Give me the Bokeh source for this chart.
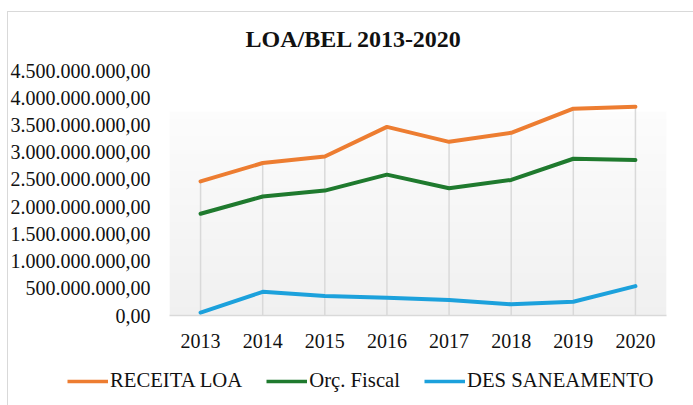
import numpy as np
from bokeh.plotting import figure
from bokeh.models import (Range1d, FixedTicker, CustomJSTickFormatter, Legend,
                          LegendItem, Title)
from bokeh.embed import file_html
from bokeh.resources import INLINE

# ---- data ----
years = [2013, 2014, 2015, 2016, 2017, 2018, 2019, 2020]
receita_loa = [2.464e9, 2.801e9, 2.921e9, 3.464e9, 3.190e9, 3.355e9, 3.799e9, 3.835e9]
orc_fiscal = [1.868e9, 2.185e9, 2.294e9, 2.587e9, 2.336e9, 2.490e9, 2.879e9, 2.856e9]
des_saneamento = [0.051e9, 0.435e9, 0.356e9, 0.325e9, 0.283e9, 0.205e9, 0.252e9, 0.539e9]
series_names = ["RECEITA LOA", "Orç. Fiscal", "DES SANEAMENTO"]
y_ticks = [0, 5e8, 1e9, 1.5e9, 2e9, 2.5e9, 3e9, 3.5e9, 4e9, 4.5e9]
title_text = "LOA/BEL 2013-2020"

# ---- style ----
FONT = "Liberation Serif"
colors = ["#ED7D31", "#1F7A2E", "#1CA1DC"]
GRID = "#d9d9d9"
TXT = "#111111"
LINE_BG = "linear-gradient(#d9d9d9,#d9d9d9)"

p = figure(width=693, height=355, output_backend="svg", toolbar_location=None,
           x_range=Range1d(years[0] - 0.5, years[-1] + 0.5),
           y_range=Range1d(y_ticks[0], y_ticks[-1]),
           min_border_left=169, min_border_right=27,
           min_border_top=70, min_border_bottom=40)
p.outline_line_color = None
p.background_fill_color = "white"
p.border_fill_alpha = 0
p.xgrid.grid_line_color = None
p.ygrid.grid_line_color = None
p.styles = {"background": f"{LINE_BG} 7px 11px / 1px 100% no-repeat, "
                          f"{LINE_BG} 7px 11px / 100% 1px no-repeat"}

# plot-area gradient (white top -> light gray bottom)
grad_top = 3.74e9
n = 120
img = np.empty((n, 1), dtype=np.uint32)
view = img.view(dtype=np.uint8).reshape((n, 1, 4))
for i in range(n):
    g = int(round(240 + (252 - 240) * i / (n - 1)))
    view[i, 0, :] = [g, g, g, 255]
p.image_rgba(image=[img], x=years[0] - 0.5, y=0, dw=len(years), dh=grad_top)

# drop lines from highest point to axis
tops = [max(a, b, c) for a, b, c in zip(receita_loa, orc_fiscal, des_saneamento)]
p.segment(x0=years, y0=[0] * len(years), x1=years, y1=tops,
          line_color=GRID, line_width=1.5)

all_series = [receita_loa, orc_fiscal, des_saneamento]
for vals, col in zip(all_series, colors):
    p.line(years, vals, line_color=col, line_width=4,
           line_join="round", line_cap="round")

# axes
p.xaxis.ticker = FixedTicker(ticks=years)
p.xaxis.axis_line_color = GRID
p.xaxis.axis_line_width = 1.5
p.xaxis.major_tick_line_color = None
p.xaxis.minor_tick_line_color = None
p.xaxis.major_label_text_font = FONT
p.xaxis.major_label_text_font_size = "20px"
p.xaxis.major_label_text_color = TXT
p.xaxis.major_label_standoff = 12

p.yaxis.ticker = FixedTicker(ticks=y_ticks)
p.yaxis.axis_line_color = None
p.yaxis.major_tick_line_color = None
p.yaxis.minor_tick_line_color = None
p.yaxis.major_label_text_font = FONT
p.yaxis.major_label_text_font_size = "20px"
p.yaxis.major_label_text_color = TXT
p.yaxis.major_label_standoff = 13
p.yaxis.formatter = CustomJSTickFormatter(code="""
    const s = Math.round(tick).toString().replace(/\\B(?=(\\d{3})+(?!\\d))/g, '.');
    return s + ',00';
""")

# title
p.title = Title(text=title_text, align="left", offset=76, standoff=38,
                text_font=FONT, text_font_style="bold", text_font_size="24px",
                text_color=TXT)

# legend strip: separate root; its series lines fall outside its view,
# only the legend entries show
lg = figure(width=693, height=50, output_backend="svg", toolbar_location=None,
            x_range=Range1d(0, 1), y_range=Range1d(0, 1), min_border=0)
lg.axis.visible = False
lg.grid.visible = False
lg.outline_line_color = None
lg.background_fill_alpha = 0
lg.border_fill_alpha = 0
lg.styles = {"background": f"{LINE_BG} 7px 0px / 1px 100% no-repeat"}
leg_rs = [lg.line(years, vals, line_color=col, line_width=3.5)
          for vals, col in zip(all_series, colors)]
legend = Legend(items=[LegendItem(label=nm, renderers=[r])
                       for nm, r in zip(series_names, leg_rs)],
                orientation="horizontal", location=(67, 13),
                glyph_width=41, glyph_height=20, label_standoff=2, spacing=24,
                padding=0, margin=0, border_line_color=None,
                background_fill_alpha=0,
                label_text_font=FONT, label_text_font_size="20.7px",
                label_text_color=TXT)
lg.add_layout(legend, "center")

open("out.html", "w").write(file_html([p, lg], INLINE))
